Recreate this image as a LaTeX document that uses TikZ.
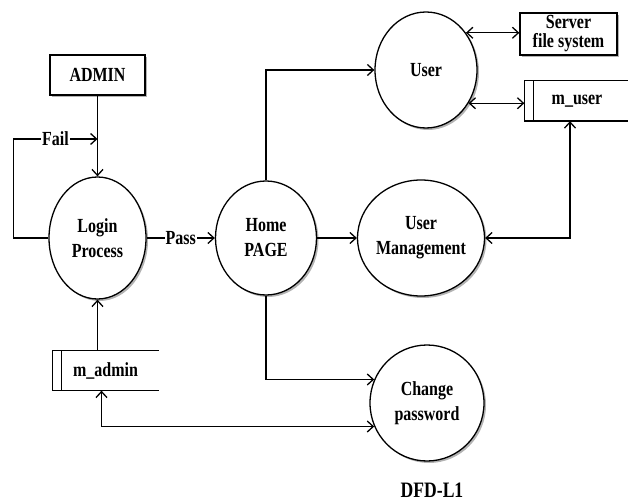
\documentclass[tikz,border=0pt]{standalone}
\usepackage{fontspec}
\setmainfont[FakeStretch=0.8]{Liberation Serif}
\usetikzlibrary{shapes.geometric,shadows,arrows.meta}

\begin{document}
\begin{tikzpicture}[x=1pt,y=-1pt,line width=1.3pt,>={Straight Barb[length=6pt,width=11pt]},
  every node/.style={font=\bfseries\fontsize{20}{25}\selectfont, align=center, inner sep=0pt},
  proc/.style={ellipse, draw, fill=white, drop shadow={shadow xshift=2pt,shadow yshift=-2pt,opacity=0.6}},
  entity/.style={rectangle, draw, fill=white, drop shadow={shadow xshift=2pt,shadow yshift=-2pt,opacity=0.6}},
  store/.style={rectangle, minimum height=39pt}]
\useasboundingbox (0,0) rectangle (628,502);

\node[entity, minimum width=95pt, minimum height=40pt] (admin) at (97.5,75) {ADMIN};
\node[proc, minimum width=97pt, minimum height=122pt] (login) at (97.5,238) {Login\\Process};
\node[proc, minimum width=101pt, minimum height=114pt] (home) at (266,238) {Home\\PAGE};
\node[proc, minimum width=103pt, minimum height=116pt] (mgmt) at (421,238) {User\\Management};
\node[proc, minimum width=102pt, minimum height=116pt] (user) at (426,70) {User};
\node[proc, minimum width=114pt, minimum height=116pt] (change) at (427,403) {Change\\password};
\node[entity, minimum width=97pt, minimum height=42pt, font=\bfseries\fontsize{20}{19}\selectfont] (server) at (568.5,34) {Server\\file system};
\node[store, minimum width=104pt] (muser) at (577,101) {m\_user};
\node[store, minimum width=105pt] (madmin) at (105.5,370.5) {m\_admin};
\node (title) at (432,490) {\fontsize{22}{24}\selectfont DFD-L1};

\draw (muser.north east) -- (muser.north west) -- (muser.south west) -- (muser.south east);
\draw ([xshift=9pt]muser.north west) -- ([xshift=9pt]muser.south west);
\draw (madmin.north east) -- (madmin.north west) -- (madmin.south west) -- (madmin.south east);
\draw ([xshift=9pt]madmin.north west) -- ([xshift=9pt]madmin.south west);

\coordinate (failin) at (97.5,139);
\draw[->] (admin) -- (login);
\draw[->] (login.west) -- ++(-35,0) |- node[pos=0.75,fill=white,inner xsep=1pt]{Fail} (failin);
\draw[->] (login) -- node[fill=white,inner xsep=1pt]{Pass} (home);
\draw[->] (home) -- (mgmt);
\draw[->] (home.north) |- (user.west);
\draw[->] (home.south) |- (change.156);
\draw[->] (madmin.north -| login) -- (login.south);
\draw[<->] ([xshift=-4pt]madmin.south) |- (change.204);
\draw[<->] (user.43) -- (user.43 -| server.west);
\draw[<->] (user.-38) -- (user.-38 -| muser.west);
\draw[<->] ([xshift=-7pt]muser.south) |- (mgmt.east);
\end{tikzpicture}
\end{document}
